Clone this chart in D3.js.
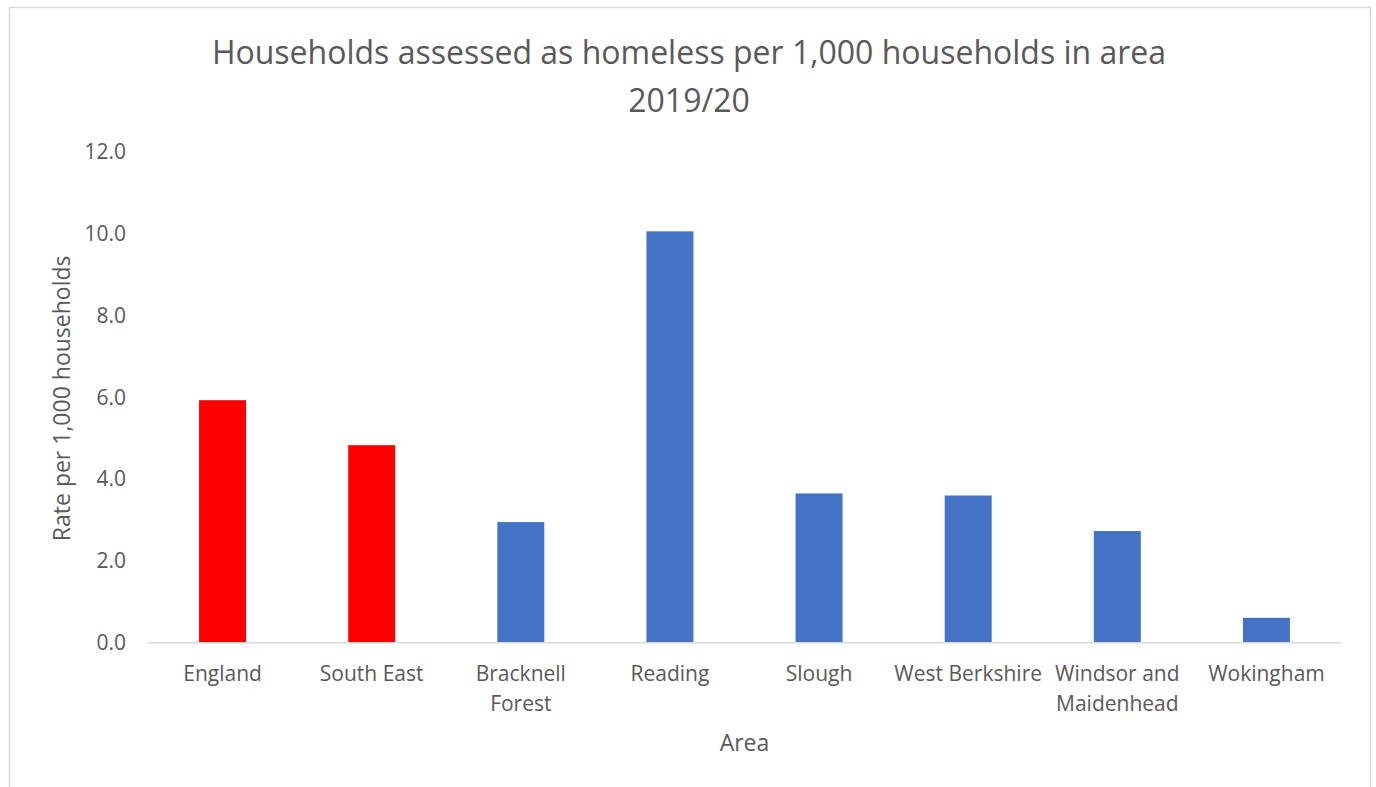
<!DOCTYPE html>
<html>
<head>
<meta charset="utf-8">
<script src="https://cdn.jsdelivr.net/npm/d3@7"></script>
<style>
  html, body { margin: 0; padding: 0; background: #ffffff; }
  svg { display: block; }
  svg text { font-family: "Open Sans", "Liberation Sans", sans-serif; }
</style>
</head>
<body>
<svg id="chart" width="1376" height="787"></svg>
<script>
// Homelessness assessments per 1,000 households, 2019/20
const categories = ["England", "South East", "Bracknell Forest", "Reading", "Slough",
                    "West Berkshire", "Windsor and Maidenhead", "Wokingham"];
const categoryLabels = [["England"], ["South East"], ["Bracknell", "Forest"], ["Reading"], ["Slough"],
                        ["West Berkshire"], ["Windsor and", "Maidenhead"], ["Wokingham"]];
const rates = [5.93, 4.83, 2.95, 10.06, 3.65, 3.60, 2.73, 0.61];
const barColors = ["#ff0000", "#ff0000", "#4472c4", "#4472c4", "#4472c4", "#4472c4", "#4472c4", "#4472c4"];
const yTicks = [0, 2, 4, 6, 8, 10, 12];
const titleLines = ["Households assessed as homeless per 1,000 households in area", "2019/20"];
const yAxisTitle = "Rate per 1,000 households";
const xAxisTitle = "Area";

const svg = d3.select("#chart");
const textColor = "#595959";
const fontStack = '"Open Sans", "Liberation Sans", sans-serif';

// chart frame
svg.append("rect")
  .attr("x", 9.5).attr("y", 7.5)
  .attr("width", 1361).attr("height", 800)
  .attr("fill", "#ffffff")
  .attr("stroke", "#d9d9d9").attr("stroke-width", 1.5);

const plot = { left: 148, right: 1341, top: 152, bottom: 642.7 };

const x = d3.scaleBand()
  .domain(categories)
  .range([plot.left, plot.right])
  .paddingInner(0.685)
  .paddingOuter(0.3425);

const y = d3.scaleLinear()
  .domain([0, 12])
  .range([plot.bottom, plot.top]);

// title
svg.append("text")
  .attr("text-anchor", "middle")
  .attr("fill", textColor)
  .style("font-size", "32px")
  .selectAll("tspan").data(titleLines).join("tspan")
  .attr("x", 689)
  .attr("y", (d, i) => 64 + i * 48)
  .text(d => d);

// y axis (labels only)
const yAxis = d3.axisLeft(y).tickValues(yTicks).tickFormat(d3.format(".1f")).tickSize(0).tickPadding(0);
const yG = svg.append("g").attr("transform", `translate(${plot.left - 22},0)`).call(yAxis);
yG.attr("font-family", fontStack);
yG.select(".domain").remove();
yG.selectAll("text").attr("fill", textColor).style("font-size", "21px");

// bars
svg.append("g").selectAll("rect").data(categories).join("rect")
  .attr("x", d => x(d))
  .attr("width", x.bandwidth())
  .attr("y", (d, i) => y(rates[i]))
  .attr("height", (d, i) => y(0) - y(rates[i]))
  .attr("fill", (d, i) => barColors[i]);

// x axis line and category labels
const xAxis = d3.axisBottom(x).tickSize(0).tickPadding(0).tickFormat(() => "");
const xG = svg.append("g").attr("transform", `translate(0,${plot.bottom})`).call(xAxis);
xG.attr("font-family", fontStack);
xG.select(".domain").attr("stroke", "#d9d9d9").attr("stroke-width", 1.5).attr("d", `M${plot.left},0H${plot.right}`);
xG.selectAll(".tick").each(function(d, i) {
  const t = d3.select(this).append("text")
    .attr("fill", textColor)
    .attr("text-anchor", "middle")
    .style("font-size", "21px");
  t.selectAll("tspan").data(categoryLabels[i]).join("tspan")
    .attr("x", 0)
    .attr("y", (s, j) => 38 + j * 30)
    .text(s => s);
});

// axis titles
svg.append("text")
  .attr("transform", `translate(70,${(plot.top + plot.bottom) / 2 + 1}) rotate(-90)`)
  .attr("text-anchor", "middle")
  .attr("fill", textColor)
  .style("font-size", "23px")
  .text(yAxisTitle);

svg.append("text")
  .attr("x", (plot.left + plot.right) / 2)
  .attr("y", 751)
  .attr("text-anchor", "middle")
  .attr("fill", textColor)
  .style("font-size", "23px")
  .text(xAxisTitle);
</script>
</body>
</html>
